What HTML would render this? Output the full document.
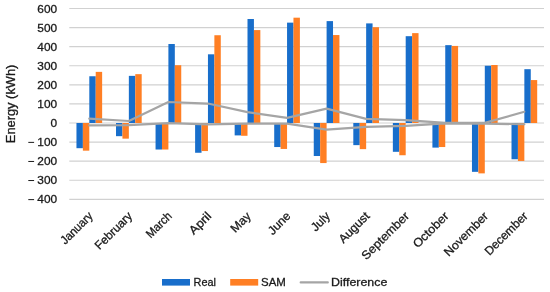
<!DOCTYPE html><html><head><meta charset="utf-8"><title>chart</title>
<style>html,body{margin:0;padding:0;background:#fff}svg{display:block;opacity:.999;will-change:transform}text{font-family:"Liberation Sans",sans-serif;fill:#1a1a1a;stroke:#1a1a1a;stroke-width:.3px}</style></head><body>
<svg width="550" height="292" viewBox="0 0 550 292">
<rect width="550" height="292" fill="#fff"/>
<line x1="69.3" x2="544.0" y1="199.32" y2="199.32" stroke="#d1d1d1" stroke-width="1.15"/>
<line x1="69.3" x2="544.0" y1="180.24" y2="180.24" stroke="#d1d1d1" stroke-width="1.15"/>
<line x1="69.3" x2="544.0" y1="161.16" y2="161.16" stroke="#d1d1d1" stroke-width="1.15"/>
<line x1="69.3" x2="544.0" y1="142.08" y2="142.08" stroke="#d1d1d1" stroke-width="1.15"/>
<line x1="69.3" x2="544.0" y1="123.00" y2="123.00" stroke="#d1d1d1" stroke-width="1.15"/>
<line x1="69.3" x2="544.0" y1="103.92" y2="103.92" stroke="#d1d1d1" stroke-width="1.15"/>
<line x1="69.3" x2="544.0" y1="84.84" y2="84.84" stroke="#d1d1d1" stroke-width="1.15"/>
<line x1="69.3" x2="544.0" y1="65.76" y2="65.76" stroke="#d1d1d1" stroke-width="1.15"/>
<line x1="69.3" x2="544.0" y1="46.68" y2="46.68" stroke="#d1d1d1" stroke-width="1.15"/>
<line x1="69.3" x2="544.0" y1="27.60" y2="27.60" stroke="#d1d1d1" stroke-width="1.15"/>
<line x1="69.3" x2="544.0" y1="8.52" y2="8.52" stroke="#d1d1d1" stroke-width="1.15"/>
<rect x="76.46" y="123.00" width="6.42" height="25.19" fill="#186ecb"/>
<rect x="82.88" y="123.00" width="6.42" height="27.67" fill="#ff7f24"/>
<rect x="89.30" y="76.25" width="6.42" height="46.75" fill="#186ecb"/>
<rect x="95.72" y="71.87" width="6.42" height="51.13" fill="#ff7f24"/>
<rect x="116.01" y="123.00" width="6.42" height="13.17" fill="#186ecb"/>
<rect x="122.43" y="123.00" width="6.42" height="15.65" fill="#ff7f24"/>
<rect x="128.85" y="75.87" width="6.42" height="47.13" fill="#186ecb"/>
<rect x="135.27" y="74.16" width="6.42" height="48.84" fill="#ff7f24"/>
<rect x="155.56" y="123.00" width="6.42" height="26.52" fill="#186ecb"/>
<rect x="161.98" y="123.00" width="6.42" height="26.52" fill="#ff7f24"/>
<rect x="168.40" y="44.01" width="6.42" height="78.99" fill="#186ecb"/>
<rect x="174.82" y="65.19" width="6.42" height="57.81" fill="#ff7f24"/>
<rect x="195.11" y="123.00" width="6.42" height="29.76" fill="#186ecb"/>
<rect x="201.53" y="123.00" width="6.42" height="28.05" fill="#ff7f24"/>
<rect x="207.95" y="54.31" width="6.42" height="68.69" fill="#186ecb"/>
<rect x="214.37" y="35.23" width="6.42" height="87.77" fill="#ff7f24"/>
<rect x="234.66" y="123.00" width="6.42" height="12.40" fill="#186ecb"/>
<rect x="241.08" y="123.00" width="6.42" height="12.78" fill="#ff7f24"/>
<rect x="247.50" y="19.01" width="6.42" height="103.99" fill="#186ecb"/>
<rect x="253.92" y="30.08" width="6.42" height="92.92" fill="#ff7f24"/>
<rect x="274.21" y="123.00" width="6.42" height="24.04" fill="#186ecb"/>
<rect x="280.63" y="123.00" width="6.42" height="25.95" fill="#ff7f24"/>
<rect x="287.05" y="22.64" width="6.42" height="100.36" fill="#186ecb"/>
<rect x="293.47" y="17.68" width="6.42" height="105.32" fill="#ff7f24"/>
<rect x="313.76" y="123.00" width="6.42" height="33.01" fill="#186ecb"/>
<rect x="320.18" y="123.00" width="6.42" height="40.07" fill="#ff7f24"/>
<rect x="326.60" y="21.11" width="6.42" height="101.89" fill="#186ecb"/>
<rect x="333.02" y="35.04" width="6.42" height="87.96" fill="#ff7f24"/>
<rect x="353.31" y="123.00" width="6.42" height="22.13" fill="#186ecb"/>
<rect x="359.73" y="123.00" width="6.42" height="26.14" fill="#ff7f24"/>
<rect x="366.15" y="23.40" width="6.42" height="99.60" fill="#186ecb"/>
<rect x="372.57" y="27.22" width="6.42" height="95.78" fill="#ff7f24"/>
<rect x="392.86" y="123.00" width="6.42" height="28.81" fill="#186ecb"/>
<rect x="399.28" y="123.00" width="6.42" height="32.25" fill="#ff7f24"/>
<rect x="405.70" y="36.19" width="6.42" height="86.81" fill="#186ecb"/>
<rect x="412.12" y="33.13" width="6.42" height="89.87" fill="#ff7f24"/>
<rect x="432.41" y="123.00" width="6.42" height="24.61" fill="#186ecb"/>
<rect x="438.83" y="123.00" width="6.42" height="24.04" fill="#ff7f24"/>
<rect x="445.25" y="45.15" width="6.42" height="77.85" fill="#186ecb"/>
<rect x="451.67" y="45.92" width="6.42" height="77.08" fill="#ff7f24"/>
<rect x="471.96" y="123.00" width="6.42" height="48.84" fill="#186ecb"/>
<rect x="478.38" y="123.00" width="6.42" height="50.37" fill="#ff7f24"/>
<rect x="484.80" y="65.76" width="6.42" height="57.24" fill="#186ecb"/>
<rect x="491.22" y="65.00" width="6.42" height="58.00" fill="#ff7f24"/>
<rect x="511.51" y="123.00" width="6.42" height="36.25" fill="#186ecb"/>
<rect x="517.93" y="123.00" width="6.42" height="37.97" fill="#ff7f24"/>
<rect x="524.35" y="69.19" width="6.42" height="53.81" fill="#186ecb"/>
<rect x="530.77" y="80.07" width="6.42" height="42.93" fill="#ff7f24"/>
<polyline points="89.30,118.61 128.85,121.00 168.40,102.01 207.95,103.54 247.50,112.12 287.05,117.85 326.60,108.69 366.15,118.90 405.70,120.14 445.25,122.81 484.80,122.90 524.35,111.74" fill="none" stroke="#a5a5a5" stroke-width="2.2" stroke-linecap="round" stroke-linejoin="round"/>
<polyline points="89.30,125.37 128.85,125.10 168.40,123.10 207.95,124.34 247.50,123.57 287.05,123.57 326.60,129.68 366.15,126.91 405.70,125.82 445.25,123.38 484.80,123.67 524.35,124.24" fill="none" stroke="#a5a5a5" stroke-width="2.2" stroke-linecap="round" stroke-linejoin="round"/>
<text x="57.1" y="203.32" font-size="11.6" text-anchor="end" textLength="19.8" lengthAdjust="spacingAndGlyphs">400</text>
<line x1="28.3" x2="34.1" y1="199.62" y2="199.62" stroke="#1a1a1a" stroke-width="1"/>
<text x="57.1" y="184.24" font-size="11.6" text-anchor="end" textLength="19.8" lengthAdjust="spacingAndGlyphs">300</text>
<line x1="28.3" x2="34.1" y1="180.54" y2="180.54" stroke="#1a1a1a" stroke-width="1"/>
<text x="57.1" y="165.16" font-size="11.6" text-anchor="end" textLength="19.8" lengthAdjust="spacingAndGlyphs">200</text>
<line x1="28.3" x2="34.1" y1="161.46" y2="161.46" stroke="#1a1a1a" stroke-width="1"/>
<text x="57.1" y="146.08" font-size="11.6" text-anchor="end" textLength="19.8" lengthAdjust="spacingAndGlyphs">100</text>
<line x1="28.3" x2="34.1" y1="142.38" y2="142.38" stroke="#1a1a1a" stroke-width="1"/>
<text x="57.1" y="127.00" font-size="11.6" text-anchor="end" textLength="6.6" lengthAdjust="spacingAndGlyphs">0</text>
<text x="57.1" y="107.92" font-size="11.6" text-anchor="end" textLength="19.8" lengthAdjust="spacingAndGlyphs">100</text>
<text x="57.1" y="88.84" font-size="11.6" text-anchor="end" textLength="19.8" lengthAdjust="spacingAndGlyphs">200</text>
<text x="57.1" y="69.76" font-size="11.6" text-anchor="end" textLength="19.8" lengthAdjust="spacingAndGlyphs">300</text>
<text x="57.1" y="50.68" font-size="11.6" text-anchor="end" textLength="19.8" lengthAdjust="spacingAndGlyphs">400</text>
<text x="57.1" y="31.60" font-size="11.6" text-anchor="end" textLength="19.8" lengthAdjust="spacingAndGlyphs">500</text>
<text x="57.1" y="12.52" font-size="11.6" text-anchor="end" textLength="19.8" lengthAdjust="spacingAndGlyphs">600</text>
<text transform="translate(14.8,143.2) rotate(-90)" font-size="12.4" textLength="78.6" lengthAdjust="spacingAndGlyphs">Energy (kWh)</text>
<text transform="translate(93.50,216.80) rotate(-45)" font-size="12" text-anchor="end" textLength="39.9" lengthAdjust="spacingAndGlyphs">January</text>
<text transform="translate(133.05,216.80) rotate(-45)" font-size="12" text-anchor="end" textLength="47.4" lengthAdjust="spacingAndGlyphs">February</text>
<text transform="translate(172.60,216.80) rotate(-45)" font-size="12" text-anchor="end" textLength="30.9" lengthAdjust="spacingAndGlyphs">March</text>
<text transform="translate(212.15,216.80) rotate(-45)" font-size="12" text-anchor="end" textLength="26.0" lengthAdjust="spacingAndGlyphs">April</text>
<text transform="translate(251.70,216.80) rotate(-45)" font-size="12" text-anchor="end" textLength="23.4" lengthAdjust="spacingAndGlyphs">May</text>
<text transform="translate(291.25,216.80) rotate(-45)" font-size="12" text-anchor="end" textLength="26.3" lengthAdjust="spacingAndGlyphs">June</text>
<text transform="translate(330.80,216.80) rotate(-45)" font-size="12" text-anchor="end" textLength="21.4" lengthAdjust="spacingAndGlyphs">July</text>
<text transform="translate(370.35,216.80) rotate(-45)" font-size="12" text-anchor="end" textLength="38.1" lengthAdjust="spacingAndGlyphs">August</text>
<text transform="translate(409.90,216.80) rotate(-45)" font-size="12" text-anchor="end" textLength="61.7" lengthAdjust="spacingAndGlyphs">September</text>
<text transform="translate(449.45,216.80) rotate(-45)" font-size="12" text-anchor="end" textLength="45.0" lengthAdjust="spacingAndGlyphs">October</text>
<text transform="translate(489.00,216.80) rotate(-45)" font-size="12" text-anchor="end" textLength="56.8" lengthAdjust="spacingAndGlyphs">November</text>
<text transform="translate(528.55,216.80) rotate(-45)" font-size="12" text-anchor="end" textLength="55.4" lengthAdjust="spacingAndGlyphs">December</text>
<rect x="162" y="279" width="28" height="6.6" fill="#186ecb"/>
<text x="193.6" y="286.1" font-size="11.6" textLength="22.4" lengthAdjust="spacingAndGlyphs">Real</text>
<rect x="230.2" y="279" width="28" height="6.6" fill="#ff7f24"/>
<text x="261.0" y="286.1" font-size="11.6" textLength="24.8" lengthAdjust="spacingAndGlyphs">SAM</text>
<line x1="300.7" x2="327.8" y1="282.4" y2="282.4" stroke="#a5a5a5" stroke-width="2.2" stroke-linecap="round"/>
<text x="331.0" y="286.1" font-size="11.6" textLength="56.3" lengthAdjust="spacingAndGlyphs">Difference</text>
</svg></body></html>
